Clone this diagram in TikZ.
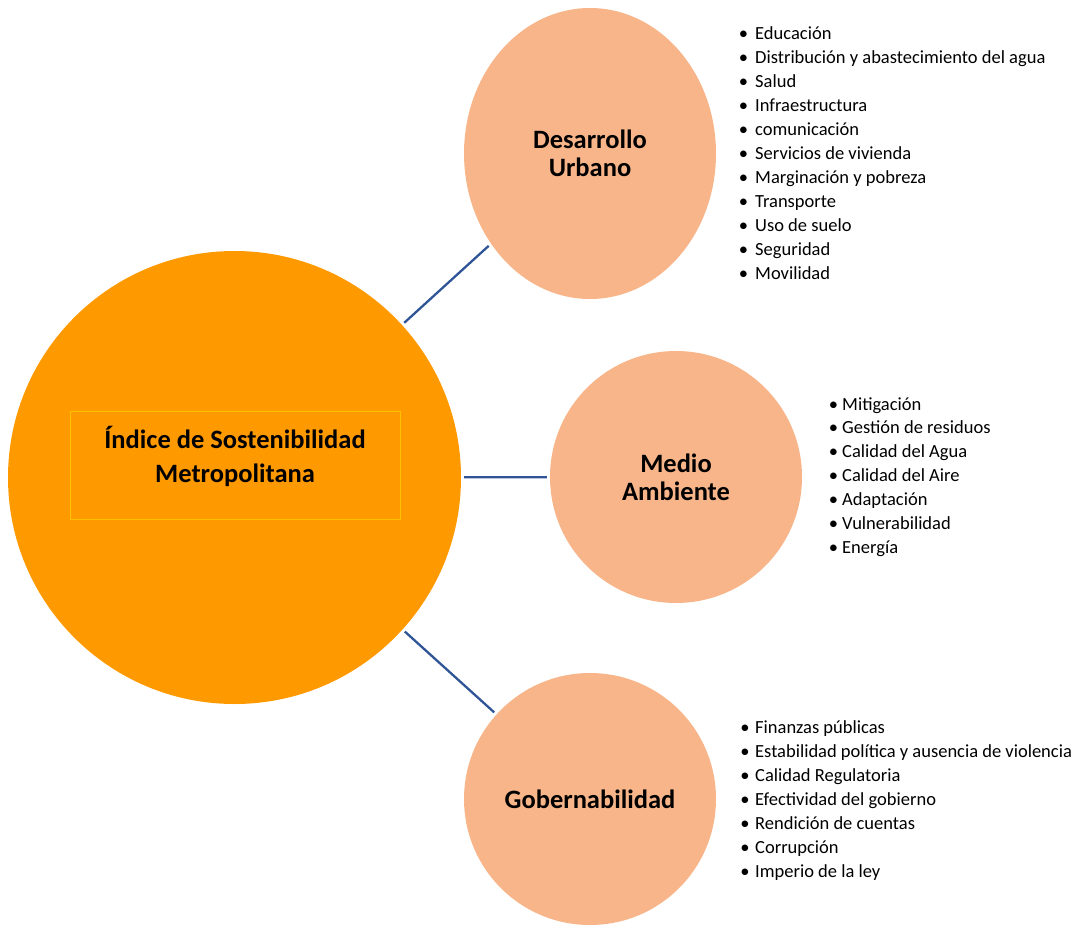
\documentclass[tikz,border=0pt]{standalone}
\usepackage{fontspec}
\setmainfont{Carlito}
\usetikzlibrary{shapes.geometric}
\definecolor{mainorange}{HTML}{FF9900}
\definecolor{peach}{HTML}{F7B589}
\definecolor{connblue}{HTML}{2F5597}
\definecolor{gold}{HTML}{FFC000}
\tikzset{
  maincircle/.style={circle, fill=mainorange, draw=none, inner sep=0pt, minimum size=453pt},
  subellipse/.style={ellipse, fill=peach, draw=none, inner sep=0pt, align=center,
     font=\fontsize{26.5}{28}\selectfont\bfseries},
  titlebox/.style={rectangle, draw=gold, line width=0.8pt, inner sep=0pt,
     minimum width=330pt, minimum height=108pt},
  titletext/.style={inner sep=0pt, align=center, font=\fontsize{26.5}{34}\selectfont\bfseries},
  conn/.style={draw=connblue, line width=2.3pt, shorten <=3pt, shorten >=3pt},
  itemtext/.style={anchor=base west, inner sep=0pt, font=\fontsize{18.5}{24}\selectfont},
  bulletmark/.style={anchor=base, inner sep=0pt, font=\fontsize{18.5}{24}\selectfont}
}
\begin{document}
\begin{tikzpicture}[x=1pt, y=-1pt]
\useasboundingbox (0,0) rectangle (1079,924);
\node[maincircle] (main) at (234.5,477.5) {};
\node[titlebox] (title) at (235,465) {};
\node[titletext] (titletxt) at (235,456) {Índice de Sostenibilidad\\Metropolitana};
\node[subellipse, minimum width=252pt, minimum height=291pt] (du) at (590,153.5) {Desarrollo\\Urbano};
\node[subellipse, minimum width=252pt, minimum height=252pt] (ma) at (676,477) {Medio\\Ambiente};
\node[subellipse, minimum width=252pt, minimum height=252pt] (go) at (590,799) {Gobernabilidad};
\draw[conn] (main) -- (du);
\draw[conn] (main) -- (ma);
\draw[conn] (main) -- (go);
\foreach \t [count=\i] in {Educación, Distribución y abastecimiento del agua, Salud, Infraestructura, comunicación, Servicios de vivienda, Marginación y pobreza, Transporte, Uso de suelo, Seguridad, Movilidad}{
  \node[bulletmark] (dub\i) at (743.5,{39+24*(\i-1)}) {•};
  \node[itemtext] (dut\i) at (755,{39+24*(\i-1)}) {\t};
}
\foreach \t [count=\i] in {Mitigación, Gestión de residuos, Calidad del Agua, Calidad del Aire, Adaptación, Vulnerabilidad, Energía}{
  \node[bulletmark] (mab\i) at (833.5,{410+23.9*(\i-1)}) {•};
  \node[itemtext] (mat\i) at (842,{410+23.9*(\i-1)}) {\t};
}
\foreach \t [count=\i] in {Finanzas públicas, Estabilidad política y ausencia de violencia, Calidad Regulatoria, Efectividad del gobierno, Rendición de cuentas, Corrupción, Imperio de la ley}{
  \node[bulletmark] (gob\i) at (745,{733+24*(\i-1)}) {•};
  \node[itemtext] (got\i) at (755,{733+24*(\i-1)}) {\t};
}
\end{tikzpicture}
\end{document}
